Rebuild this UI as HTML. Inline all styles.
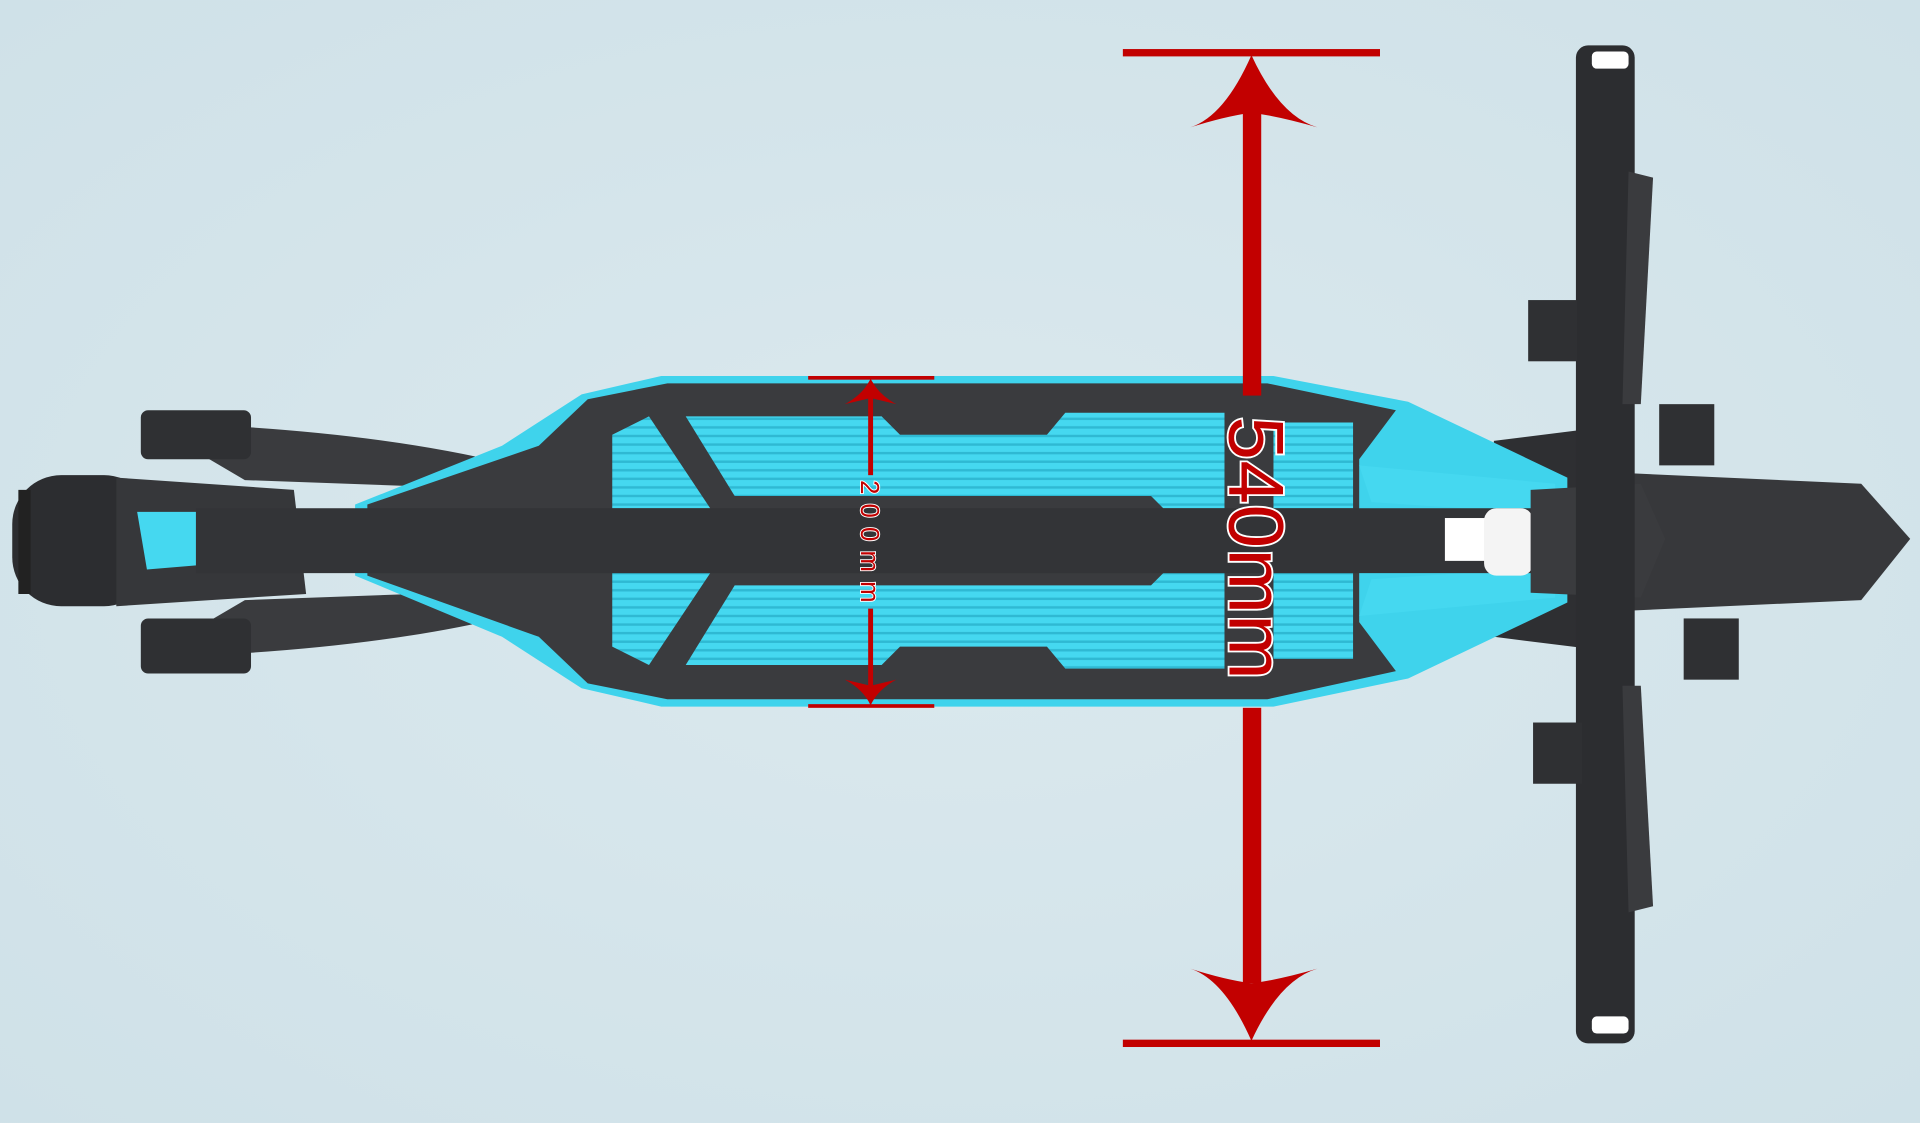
<!DOCTYPE html>
<html><head><meta charset="utf-8"><style>
html,body{margin:0;padding:0;width:1920px;height:1123px;overflow:hidden;background:#d4e5eb}
svg{display:block}
</style></head><body>
<svg width="1920" height="1123" viewBox="0 0 1568 917" xmlns="http://www.w3.org/2000/svg">
<defs>
<radialGradient id="bg" cx="50%" cy="50%" r="70%"><stop offset="0" stop-color="#dbe9ee"/><stop offset="1" stop-color="#cfe1e8"/></radialGradient>
<pattern id="rib" width="8" height="7" patternUnits="userSpaceOnUse"><rect width="8" height="7" fill="#45d8f0"/><rect y="5" width="8" height="2" fill="#2fb9d3"/></pattern>
</defs>
<rect width="1568" height="917" fill="url(#bg)"/>
<path d="M120,345 Q300,350 420,380 L420,400 L200,392 Z" fill="#3a3b3e"/>
<path d="M120,537 Q300,532 420,502 L420,482 L200,490 Z" fill="#3a3b3e"/>
<rect x="115" y="335" width="90" height="40" rx="6" fill="#2f3033"/>
<rect x="115" y="505" width="90" height="45" rx="6" fill="#2f3033"/>
<rect x="10" y="388" width="115" height="107" rx="40" fill="#2c2d30"/>
<path d="M20,400 L20,485" stroke="#222" stroke-width="10"/>
<path d="M95,390 L240,400 L250,485 L95,495 Z" fill="#36373a"/>
<path d="M112,418 L185,418 L180,460 L120,465 Z" fill="#45d8f0"/>
<path d="M1300,385 L1520,395 L1560,440 L1520,490 L1300,500 Z" fill="#37383b"/>
<path d="M1220,360 L1300,350 L1300,530 L1220,520 Z" fill="#2e2f32"/>
<path d="M475,322 L540,307 L1040,307 L1150,328 L1280,390 L1280,492 L1150,554 L1040,577 L540,577 L475,562 L410,520 L290,470 L290,412 L410,364 Z" fill="#3fd3ec"/>
<path d="M480,326 L545,313 L1035,313 L1140,335 L1110,375 L1110,508 L1140,548 L1035,571 L545,571 L480,558 L440,520 L300,470 L300,412 L440,364 Z" fill="#3a3b3e"/>
<path d="M500,355 L530,340 L580,415 L500,415 Z" fill="url(#rib)"/>
<path d="M560,340 L720,340 L735,355 L855,355 L870,337 L1000,337 L1000,415 L950,415 L940,405 L600,405 Z" fill="url(#rib)"/>
<path d="M1040,345 L1105,345 L1105,415 L1040,415 Z" fill="url(#rib)"/>
<path d="M500,528 L530,543 L580,468 L500,468 Z" fill="url(#rib)"/>
<path d="M560,543 L720,543 L735,528 L855,528 L870,546 L1000,546 L1000,468 L950,468 L940,478 L600,478 Z" fill="url(#rib)"/>
<path d="M1040,538 L1105,538 L1105,468 L1040,468 Z" fill="url(#rib)"/>
<path d="M1110,380 L1270,395 L1270,420 L1120,410 Z" fill="#45d8f0"/>
<path d="M1110,503 L1270,488 L1270,463 L1120,473 Z" fill="#45d8f0"/>
<rect x="160" y="415" width="1140" height="53" fill="#333437"/>
<rect x="1180" y="423" width="35" height="35" fill="#fff"/>
<rect x="1212" y="415" width="40" height="55" rx="10" fill="#f4f4f4"/>
<path d="M1250,400 L1340,395 L1360,440 L1340,488 L1250,484 Z" fill="#3a3b3e"/>
<rect x="1287" y="37" width="48" height="815" rx="10" fill="#2c2d30"/>
<rect x="1300" y="42" width="30" height="14" rx="4" fill="#fff"/>
<rect x="1300" y="830" width="30" height="14" rx="4" fill="#fff"/>
<path d="M1330,140 L1350,145 L1340,330 L1325,330 Z" fill="#3a3b3e"/>
<path d="M1330,745 L1350,740 L1340,560 L1325,560 Z" fill="#3a3b3e"/>
<rect x="1248" y="245" width="40" height="50" fill="#2f3033"/>
<rect x="1252" y="590" width="40" height="50" fill="#2f3033"/>
<rect x="1355" y="330" width="45" height="50" fill="#2f3033"/>
<rect x="1375" y="505" width="45" height="50" fill="#2f3033"/>
<g fill="#c20000">
<rect x="917" y="40" width="210" height="6"/>
<rect x="917" y="849" width="210" height="6"/>
<rect x="1015" y="90" width="15" height="233"/>
<rect x="1015" y="578" width="15" height="225"/>
<path d="M1022,45 Q1000,95 972,104 Q1000,95 1022,92 Q1045,95 1076,104 Q1045,95 1022,45 Z"/>
<path d="M1022,850 Q1000,800 972,791 Q1000,800 1022,803 Q1045,800 1076,791 Q1045,800 1022,850 Z"/>
</g>
<text x="0" y="0" transform="translate(1004,340) rotate(90)" font-family="Liberation Sans, sans-serif" font-size="64" fill="#c20000" stroke="#fff" stroke-width="3" paint-order="stroke" textLength="215">540mm</text>
<g fill="#c20000">
<rect x="660" y="307" width="103" height="3"/>
<rect x="660" y="575" width="103" height="3"/>
<rect x="709" y="320" width="4" height="68"/>
<rect x="709" y="497" width="4" height="66"/>
<path d="M711,309 Q705,322 690,330 L711,325 L732,330 Q717,322 711,309 Z"/>
<path d="M711,576 Q705,563 690,555 L711,560 L732,555 Q717,563 711,576 Z"/>
</g>
<text x="0" y="0" transform="translate(703,392) rotate(90)" font-family="Liberation Sans, sans-serif" font-size="21" fill="#c20000" stroke="#fff" stroke-width="1.5" paint-order="stroke" textLength="100">200mm</text>
</svg>
</body></html>
